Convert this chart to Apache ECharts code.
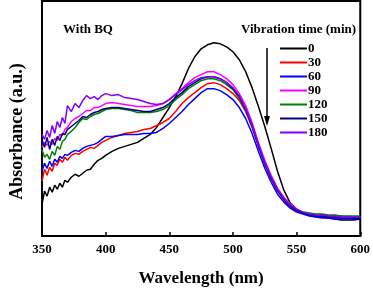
<!DOCTYPE html>
<html>
<head>
<meta charset="utf-8">
<script src="https://cdn.jsdelivr.net/npm/echarts@6/dist/echarts.min.js"></script>
<style>
  html, body { margin: 0; padding: 0; background: #fff; }
  #main { width: 373px; height: 292px; }
</style>
</head>
<body>
<div id="main"></div>
<script>
let myChart = echarts.init(document.getElementById('main'))

// wavelength (nm)
let wavelength = [350,352,354,356,358,360,362,364,366,368,370,373,376,379,382,385,388,391,394,397,400,
    405,410,415,420,425,430,435,440,445,450,455,460,465,470,475,480,485,490,495,500,505,510,515,520,525,
    530,535,540,545,550,555,560,565,570,575,580,585,590,595,600]

// absorbance, arbitrary units, one list per vibration time
let abs0 = [32,45,40,49,44,51,47,53,49,56,54,59,62,60,63,66,67,72,76,78,81,
    85,88,90,92,94,98,102,109,119,129,140,153,168,180,188,192,194,193,190,185,177,165,149,130,110,
    88,65,46,33,27,23,21,20,19,18,17,16,16,16,17]
let abs30 = [55,67,61,69,65,73,71,77,74,79,76,81,83,82,85,87,89,88,91,94,96,
    99,101,103,104,105,107,108,111,114,118,125,133,139,144,149,153,154,152,148,143,136,125,109,90,72,
    57,45,36,29,25,23,21,20,20,19,19,18,18,18,19]
let abs60 = [65,73,68,75,70,77,74,80,78,82,81,84,86,85,88,90,91,92,94,97,100,
    100,101,102,102,102,103,103,104,108,113,119,125,132,138,144,148,148,146,142,137,129,118,103,85,68,
    54,42,34,28,24,22,20,19,18,18,17,17,17,17,18]
let abs90 = [89,94,91,95,92,98,96,102,101,107,109,115,118,120,123,126,126,129,129,131,133,
    134,133,132,131,130,130,130,131,133,137,143,148,154,159,162,165,165,162,158,152,143,131,114,94,76,
    61,48,39,32,27,24,22,21,21,20,20,20,19,19,19]
let abs120 = [87,79,82,77,85,81,90,87,95,97,102,105,109,114,118,117,120,122,123,125,127,
    128,128,127,126,124,124,124,125,127,131,137,142,148,152,156,158,158,156,152,147,138,126,110,91,73,
    58,46,37,30,26,24,23,22,22,21,21,20,20,20,20]
let abs150 = [97,89,99,87,97,91,100,96,103,102,107,110,113,116,120,119,122,124,125,127,128,
    129,129,128,127,126,125,125,127,129,133,139,144,150,154,158,160,160,158,154,148,140,127,111,91,73,
    58,46,37,30,26,23,21,20,20,19,19,18,18,18,18]
let abs180 = [102,97,106,99,111,103,115,109,119,113,131,125,133,129,136,141,138,140,137,141,143,
    141,142,139,138,137,135,133,132,133,137,142,147,152,156,159,160,160,158,154,149,141,128,112,92,74,
    59,47,38,31,27,24,22,21,21,20,20,19,19,19,19]

let times = ['0', '30', '60', '90', '120', '150', '180']
let spectra = [abs0, abs30, abs60, abs90, abs120, abs150, abs180]
let colors = ['#000000', '#ff0000', '#0000ff', '#ff00ff', '#008000', '#000080', '#8000ff']

let font = 'Liberation Serif'

let series = times.map((t, i) => ({
    name: t,
    type: 'line',
    showSymbol: false,
    lineStyle: { width: 1.5, color: colors[i] },
    itemStyle: { color: colors[i] },
    data: wavelength.map((w, j) => [w, spectra[i][j]])
}))

let option = {
    animation: false,
    color: colors,
    grid: {
        left: 42, right: 12, top: 1, bottom: 55,
        show: true, borderColor: '#000', borderWidth: 2
    },
    xAxis: {
        type: 'value',
        min: 350, max: 600, interval: 50,
        name: 'Wavelength (nm)',
        nameLocation: 'middle',
        nameGap: 34,
        nameTextStyle: { fontFamily: font, fontWeight: 'bold', fontSize: 17, color: '#000' },
        axisLine: { lineStyle: { color: '#000', width: 2 } },
        axisTick: { inside: true, length: 4, lineStyle: { color: '#000', width: 1.5 } },
        axisLabel: { margin: 7, fontFamily: font, fontWeight: 'bold', fontSize: 13, color: '#000' },
        splitLine: { show: false }
    },
    yAxis: {
        type: 'value',
        min: 0, max: 236,
        name: 'Absorbance (a.u.)',
        nameLocation: 'middle',
        nameGap: 16,
        nameTextStyle: { fontFamily: font, fontWeight: 'bold', fontSize: 18, color: '#000', padding: [0, 0, 0, -26] },
        axisLine: { show: true, lineStyle: { color: '#000', width: 2 } },
        axisTick: { show: false },
        axisLabel: { show: false },
        splitLine: { show: false }
    },
    legend: {
        orient: 'vertical',
        left: 275, top: 37,
        itemWidth: 27, itemHeight: 2, itemGap: 1,
        icon: 'rect',
        textStyle: { fontFamily: font, fontWeight: 'bold', fontSize: 13, lineHeight: 13, color: '#000', padding: [0, 0, 0, -4] },
        data: times
    },
    graphic: [
        { type: 'text', left: 63, top: 23,
          style: { text: 'With BQ', font: 'bold 13px "Liberation Serif"', fill: '#000' } },
        { type: 'text', left: 241, top: 23,
          style: { text: 'Vibration time (min)', font: 'bold 13px "Liberation Serif"', fill: '#000' } },
        { type: 'line', shape: { x1: 267, y1: 48, x2: 267, y2: 119 }, style: { stroke: '#000', lineWidth: 1.5 } },
        { type: 'polygon', shape: { points: [[264, 116], [270, 116], [267, 126]] }, style: { fill: '#000' } }
    ],
    series: series
}

myChart.setOption(option)
</script>
</body>
</html>
